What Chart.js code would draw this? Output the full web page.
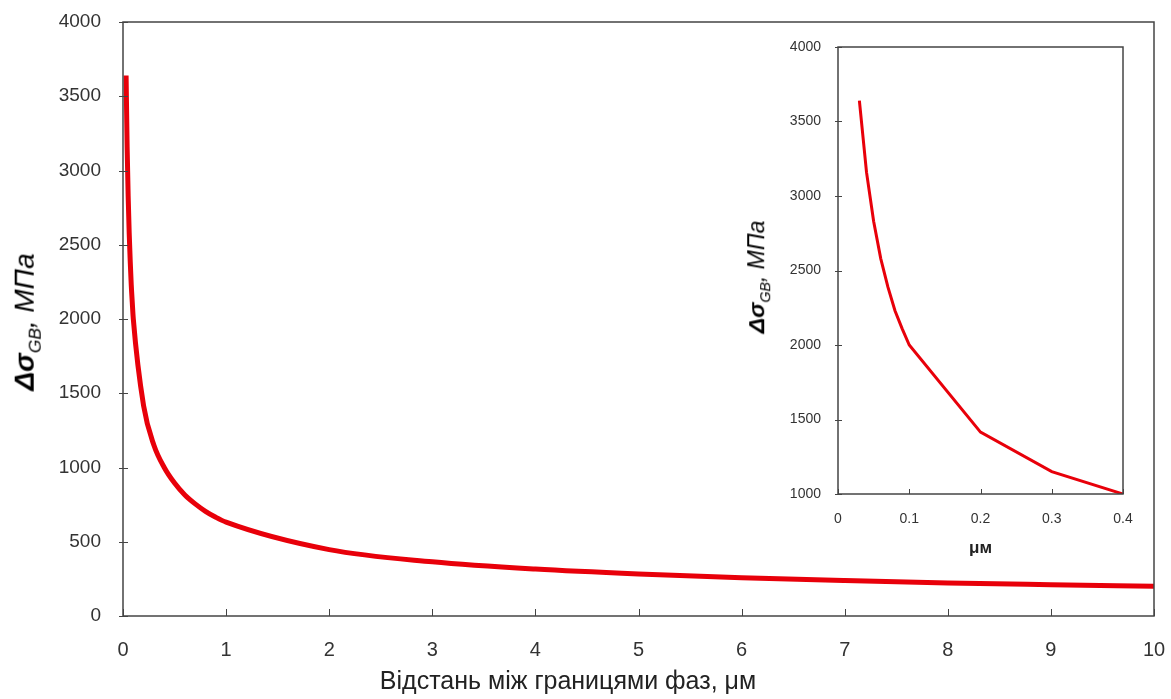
<!DOCTYPE html>
<html>
<head>
<meta charset="utf-8">
<script src="https://cdn.jsdelivr.net/npm/chart.js@4"></script>
<style>
  body { margin: 0; background: #fff; }
  #wrap { position: relative; width: 1171px; height: 699px; }
  #main { position: absolute; left: 0; top: 0; }
  #inset { position: absolute; left: 760px; top: 30px; }
  .ytitle {
    position: absolute; white-space: nowrap; color: #000;
    font-family: "Liberation Sans", Arial, sans-serif;
    transform: translate(-50%, -50%) rotate(-90deg);
  }
  .ytitle b { font-style: italic; }
  .ytitle i { font-style: italic; }
  .ytitle sub { font-style: italic; font-size: 62%; }
  .xtitle {
    position: absolute; white-space: nowrap; color: #222;
    font-family: "Liberation Sans", Arial, sans-serif;
    transform: translate(-50%, -50%);
  }
</style>
</head>
<body>
<div id="wrap">
  <canvas id="main" width="1171" height="699"></canvas>
  <canvas id="inset" width="390" height="540"></canvas>
  <div class="ytitle" style="left:27px; top:322px; font-size:28px;"><b>Δσ</b><sub>GB</sub><i>, МПа</i></div>
  <div class="ytitle" style="left:758px; top:277px; font-size:23px;"><b>Δσ</b><sub>GB</sub><i>, МПа</i></div>
  <div class="xtitle" style="left:568px; top:680px; font-size:25px;">Відстань між границями фаз, μм</div>
</div>
<script>
// distance between phase boundaries, um
const distance = [0.03, 0.04, 0.05, 0.06, 0.07, 0.08, 0.09, 0.1, 0.2, 0.3, 0.4, 0.5, 0.6, 0.7, 0.8, 0.9, 1, 2, 3, 4, 5, 6, 7, 8, 9, 10];
// stress increment, MPa
const stress = [3640, 3160, 2830, 2580, 2390, 2230, 2110, 2000, 1415, 1150, 1000, 895, 815, 755, 705, 665, 632, 447, 365, 316, 283, 258, 239, 223, 211, 200];

const insetDistance = [0.03, 0.04, 0.05, 0.06, 0.07, 0.08, 0.09, 0.1, 0.2, 0.3, 0.4];
const insetStress = [3640, 3160, 2830, 2580, 2390, 2230, 2110, 2000, 1415, 1150, 1000];

const mainXTicks = [0, 1, 2, 3, 4, 5, 6, 7, 8, 9, 10];
const mainYTicks = [0, 500, 1000, 1500, 2000, 2500, 3000, 3500, 4000];
const insetXTicks = [0, 0.1, 0.2, 0.3, 0.4];
const insetYTicks = [1000, 1500, 2000, 2500, 3000, 3500, 4000];

const lineRed = "#e8000a";
const axisColor = "#444";
const tickColor = "#333";

function toPoints(xs, ys) {
  return xs.map((x, i) => ({ x: x, y: ys[i] }));
}

// frame + inward ticks
function framePlugin(xLen, yIn, yOut) {
  return {
    id: "frame",
    afterDatasetsDraw(chart) {
      const { ctx, chartArea: a, scales } = chart;
      ctx.save();
      ctx.strokeStyle = axisColor;
      ctx.lineWidth = 1.5;
      ctx.strokeRect(a.left, a.top, a.right - a.left, a.bottom - a.top);
      ctx.lineWidth = 1;
      ctx.beginPath();
      scales.x.ticks.forEach((t, i) => {
        const px = Math.round(scales.x.getPixelForTick(i)) + 0.5;
        ctx.moveTo(px, a.bottom);
        ctx.lineTo(px, a.bottom - xLen);
      });
      scales.y.ticks.forEach((t, i) => {
        const py = Math.round(scales.y.getPixelForTick(i)) + 0.5;
        ctx.moveTo(a.left - yOut, py);
        ctx.lineTo(a.left + yIn, py);
      });
      ctx.stroke();
      ctx.restore();
    }
  };
}

function fixedTicks(list) {
  return function (scale) {
    scale.ticks = list.map(v => ({ value: v }));
  };
}

// fix the axis box size and drop the label overflow padding
function fixSize(w, h) {
  return function (s) {
    if (w !== null) s.width = w;
    if (h !== null) s.height = h;
    s.paddingTop = 0; s.paddingBottom = 0; s.paddingLeft = 0; s.paddingRight = 0;
  };
}

const plain = v => String(v);

new Chart(document.getElementById("main"), {
  type: "line",
  data: {
    datasets: [{
      data: toPoints(distance, stress),
      borderColor: lineRed,
      borderWidth: 5,
      pointRadius: 0,
      cubicInterpolationMode: "monotone",
      fill: false
    }]
  },
  options: {
    responsive: false,
    animation: false,
    events: [],
    layout: { autoPadding: false, padding: { left: 0, top: 22, right: 17, bottom: 0 } },
    plugins: { legend: { display: false }, tooltip: { enabled: false } },
    scales: {
      x: {
        type: "linear", min: 0, max: 10,
        afterBuildTicks: fixedTicks(mainXTicks),
        afterFit: fixSize(null, 83),
        grid: { display: false, drawTicks: false },
        border: { display: false },
        ticks: { color: tickColor, padding: 22, callback: plain, font: { family: "Liberation Sans", size: 20 } }
      },
      y: {
        type: "linear", min: 0, max: 4000,
        afterBuildTicks: fixedTicks(mainYTicks),
        afterFit: fixSize(123, null),
        grid: { display: false, drawTicks: false },
        border: { display: false },
        ticks: { color: tickColor, padding: 22, callback: plain, font: { family: "Liberation Sans", size: 19 } }
      }
    }
  },
  plugins: [framePlugin(7, 5, 4)]
});

new Chart(document.getElementById("inset"), {
  type: "line",
  data: {
    datasets: [{
      data: toPoints(insetDistance, insetStress),
      borderColor: lineRed,
      borderWidth: 3,
      pointRadius: 0,
      tension: 0,
      fill: false
    }]
  },
  options: {
    responsive: false,
    animation: false,
    events: [],
    layout: { autoPadding: false, padding: { left: 0, top: 17, right: 27, bottom: 0 } },
    plugins: { legend: { display: false }, tooltip: { enabled: false } },
    scales: {
      x: {
        type: "linear", min: 0, max: 0.4,
        afterBuildTicks: fixedTicks(insetXTicks),
        afterFit: fixSize(null, 76),
        grid: { display: false, drawTicks: false },
        border: { display: false },
        ticks: { color: tickColor, padding: 17, callback: plain, font: { family: "Liberation Sans", size: 14 } },
        title: {
          display: true,
          text: "μм",
          color: "#222",
          padding: { top: 0, bottom: 11 },
          font: { family: "Liberation Sans", size: 17, weight: "bold" }
        }
      },
      y: {
        type: "linear", min: 1000, max: 4000,
        afterBuildTicks: fixedTicks(insetYTicks),
        afterFit: fixSize(78, null),
        grid: { display: false, drawTicks: false },
        border: { display: false },
        ticks: { color: tickColor, padding: 17, callback: plain, font: { family: "Liberation Sans", size: 14 } }
      }
    }
  },
  plugins: [framePlugin(5, 4, 3)]
});
</script>
</body>
</html>
